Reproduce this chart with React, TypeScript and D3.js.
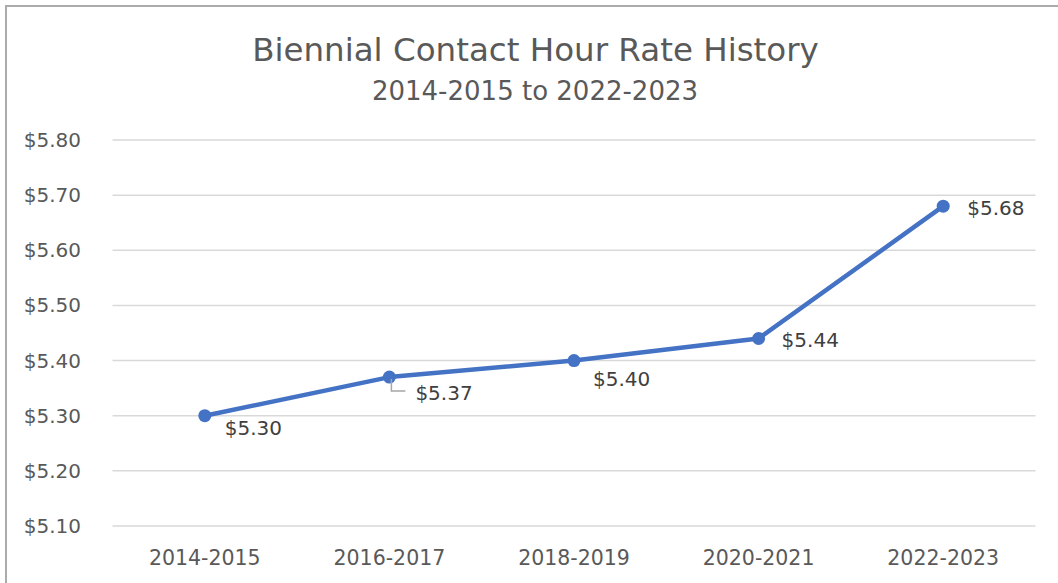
import React from "react";
import * as d3 from "d3";

const categories = ["2014-2015", "2016-2017", "2018-2019", "2020-2021", "2022-2023"];
const rates = [5.3, 5.37, 5.4, 5.44, 5.68];
const yTicks = [5.1, 5.2, 5.3, 5.4, 5.5, 5.6, 5.7, 5.8];
const title = "Biennial Contact Hour Rate History";
const subtitle = "2014-2015 to 2022-2023";

// data label offsets (px) relative to each point
const labelOffsets: [number, number][] = [
  [20, 12],
  [26, 16],
  [19, 18],
  [23, 1],
  [24, 2],
];

const W = 1058;
const H = 583;
const FONT = "'DejaVu Sans', sans-serif";
const TEXT = "#595959";
const BLUE = "#4472C4";

export default function App() {
  const x = d3.scaleBand<string>().domain(categories).range([112.5, 1035.5]);
  const y = d3.scaleLinear().domain([5.1, 5.8]).range([526, 140]);
  const cx = (c: string) => (x(c) as number) + x.bandwidth() / 2;
  const fmt = (v: number) => "$" + d3.format(".2f")(v);

  const line = d3
    .line<number>()
    .x((_, i) => cx(categories[i]))
    .y((d) => y(d));

  const p1 = { x: cx(categories[1]), y: y(rates[1]) };

  return (
    <svg
      width={W}
      height={H}
      style={{ position: "absolute", left: 0, top: 0, background: "#fff" }}
      fontFamily={FONT}
    >
      <rect x={0} y={0} width={W} height={H} fill="#fff" />
      <rect x={6} y={6} width={W + 40} height={H + 40} fill="none" stroke="#ababab" strokeWidth={2} />
      <text x={535.5} y={50} textAnchor="middle" dominantBaseline="central" fontSize={32.5} fill={TEXT}>
        {title}
      </text>
      <text x={535} y={91} textAnchor="middle" dominantBaseline="central" fontSize={26} fill={TEXT}>
        {subtitle}
      </text>
      {yTicks.map((t) => (
        <g key={t}>
          <line x1={112.5} x2={1035.5} y1={y(t)} y2={y(t)} stroke="#d9d9d9" strokeWidth={1.5} />
          <text x={81} y={y(t)} textAnchor="end" dominantBaseline="central" fontSize={20} fill={TEXT}>
            {fmt(t)}
          </text>
        </g>
      ))}
      {categories.map((c) => (
        <text key={c} x={cx(c)} y={558} textAnchor="middle" dominantBaseline="central" fontSize={20.5} fill={TEXT}>
          {c}
        </text>
      ))}
      <path d={line(rates) || ""} fill="none" stroke={BLUE} strokeWidth={4.5} strokeLinejoin="round" />
      {rates.map((r, i) => (
        <circle key={i} cx={cx(categories[i])} cy={y(r)} r={6.5} fill={BLUE} />
      ))}
      <polyline
        points={`${p1.x + 2},${p1.y + 2} ${p1.x + 2},${p1.y + 14} ${p1.x + 16},${p1.y + 14}`}
        fill="none"
        stroke="#a6a6a6"
        strokeWidth={1.5}
      />
      {rates.map((r, i) => (
        <text
          key={i}
          x={cx(categories[i]) + labelOffsets[i][0]}
          y={y(r) + labelOffsets[i][1]}
          dominantBaseline="central"
          fontSize={20}
          fill="#404040"
        >
          {fmt(r)}
        </text>
      ))}
    </svg>
  );
}
